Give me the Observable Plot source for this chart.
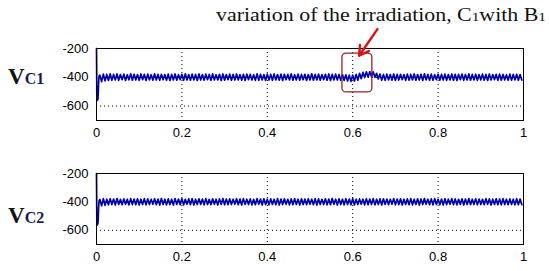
<!DOCTYPE html>
<html>
<head>
<meta charset="utf-8">
<script src="https://cdn.jsdelivr.net/npm/d3@7"></script>
<script src="https://cdn.jsdelivr.net/npm/@observablehq/plot@0.6"></script>
<style>
  html, body { margin: 0; padding: 0; background: white; }
  #wrap { position: relative; width: 549px; height: 271px; overflow: hidden; background: white; }
</style>
</head>
<body>
<div id="wrap"></div>
<script>
// ---- data ----
const xTicks = [0, 0.2, 0.4, 0.6, 0.8, 1];
const yTicks = [-600, -400, -200];
const titleText = "variation of the irradiation, C";
const panelLabels = ["C1", "C2"];

// start-up transient (time s, voltage V)
const transientT = [0, 0.0008, 0.002, 0.0035, 0.005, 0.006];
const transient1 = [-200, -520, -560, -550, -440, -390];
const transient2 = [-200, -525, -562, -548, -445, -392];

// ripple samples, one every 4 ms starting at t = 0.008 s
const rippleStart = 0.008, rippleStep = 0.004;
const ripple1 = [
  -385,-430,-378,-425,-380,-422,-376,-420,-380,-418,-377,-421,-381,-417,-378,-422,-382,-418,-376,-420,
  -379,-419,-381,-421,-377,-417,-380,-422,-378,-418,-382,-420,-376,-419,-380,-421,-379,-417,-381,-420,
  -378,-422,-380,-418,-377,-420,-382,-417,-379,-421,-376,-419,-381,-420,-378,-418,-380,-422,-377,-419,
  -381,-420,-378,-417,-380,-421,-376,-419,-382,-418,-379,-422,-377,-420,-381,-417,-378,-421,-380,-419,
  -377,-418,-381,-420,-379,-422,-378,-417,-380,-419,-382,-421,-376,-420,-379,-418,-381,-422,-378,-419,
  -380,-421,-377,-418,-381,-420,-378,-422,-379,-417,-380,-419,-377,-421,-382,-418,-378,-420,-380,-417,
  -379,-422,-381,-419,-376,-420,-380,-418,-378,-421,-381,-417,-379,-420,-377,-422,-380,-418,-378,-419,
  -380,-420,-381,-422,-383,-425,-385,-428,-384,-426,-380,-420,-372,-410,-366,-402,-362,-398,-360,-396,
  -362,-400,-372,-412,-378,-420,-380,-421,-378,-418,-381,-420,-377,-422,-380,-419,-379,-417,-381,-421,
  -378,-420,-380,-418,-377,-421,-381,-419,-379,-422,-376,-418,-380,-420,-378,-421,-382,-417,-379,-420,
  -380,-419,-378,-421,-381,-418,-377,-420,-379,-422,-380,-417,-378,-421,-381,-419,-377,-420,-380,-418,
  -379,-421,-381,-418,-378,-420,-380,-422,-377,-419,-381,-417,-379,-421,-378,-420,-380,-418,-382,-421,
  -378,-420,-380,-418,-379,-421,-381,-419
];
const ripple2 = [
  -383,-428,-377,-424,-381,-421,-378,-419,-380,-422,-376,-418,-382,-420,-379,-417,-381,-421,-377,-419,
  -380,-420,-378,-422,-381,-418,-377,-421,-379,-419,-382,-417,-378,-420,-380,-422,-376,-418,-381,-421,
  -379,-419,-381,-422,-377,-418,-380,-420,-378,-421,-382,-417,-379,-420,-377,-422,-381,-419,-378,-418,
  -380,-421,-377,-419,-382,-420,-378,-417,-381,-422,-379,-418,-376,-421,-380,-420,-378,-419,-381,-417,
  -378,-420,-380,-422,-377,-418,-381,-419,-379,-421,-382,-420,-377,-417,-380,-422,-378,-419,-381,-421,
  -379,-418,-381,-420,-377,-422,-380,-419,-378,-417,-382,-421,-379,-420,-377,-418,-381,-422,-378,-419,
  -380,-421,-378,-417,-381,-420,-377,-422,-379,-418,-382,-419,-378,-421,-380,-420,-376,-417,-381,-422,
  -379,-419,-381,-421,-378,-418,-380,-420,-377,-422,-382,-419,-379,-417,-381,-421,-378,-420,-380,-418,
  -377,-421,-381,-419,-379,-422,-378,-418,-380,-420,-382,-417,-377,-421,-380,-419,-378,-422,-381,-418,
  -379,-420,-377,-421,-381,-418,-378,-422,-380,-419,-376,-417,-381,-420,-379,-421,-377,-418,-382,-420,
  -380,-422,-378,-419,-381,-417,-377,-420,-379,-421,-382,-418,-378,-422,-380,-419,-377,-420,-381,-418,
  -378,-421,-380,-419,-382,-420,-377,-417,-379,-422,-381,-418,-378,-420,-380,-421,-377,-419,-381,-420,
  -379,-418,-381,-421,-378,-420,-380,-419
];

// annotation of the irradiation change (data units of top panel)
const markBox = { x1: 0.576, x2: 0.646, y1: -235, y2: -505 };
const markArrow = { x1: 0.658, y1: -65, x2: 0.615, y2: -250 };

function series(tr, rip) {
  const out = transientT.map((t, i) => ({ t, v: tr[i] }));
  rip.forEach((v, i) => out.push({ t: rippleStart + i * rippleStep, v }));
  return out;
}
const data1 = series(transient1, ripple1);
const data2 = series(transient2, ripple2);

const W = 549;
const wrap = document.getElementById("wrap");

function panel(data, top, mt, mb, extra) {
  const innerH = top === 0 ? 72 : 71;
  const p = Plot.plot({
    width: W,
    height: mt + innerH + mb,
    marginLeft: 96, marginRight: 26, marginTop: mt, marginBottom: mb,
    style: { fontFamily: "'Liberation Sans', Arial, sans-serif", fontSize: "13px", color: "black", background: "transparent", overflow: "visible" },
    x: { domain: [0, 1] },
    y: { domain: [-700, -200] },
    marks: [
      Plot.gridX(xTicks.slice(1, -1), { stroke: "black", strokeOpacity: 1, strokeDasharray: "1,3", strokeWidth: 1 }),
      Plot.gridY([-600, -400], { stroke: "black", strokeOpacity: 1, strokeDasharray: "1,3", strokeWidth: 1 }),
      Plot.line(data, { x: "t", y: "v", stroke: "#0000b0", strokeWidth: 1.7 }),
      Plot.frame({ stroke: "black", strokeWidth: 1 }),
      Plot.axisX({ ticks: xTicks, tickSize: 0, tickPadding: 7, tickFormat: d => String(d), label: null }),
      Plot.axisY({ ticks: yTicks, tickSize: 0, tickPadding: 8, tickFormat: d => String(d), label: null }),
      ...extra
    ]
  });
  p.style.position = "absolute";
  p.style.top = top + "px";
  p.style.left = "0px";
  wrap.appendChild(p);
}

panel(data1, 0, 48, 25, [
  Plot.rect([markBox], { x1: "x1", x2: "x2", y1: "y1", y2: "y2", rx: 4, stroke: "#8b2525", strokeWidth: 1.3, fill: "none", clip: false }),
  Plot.arrow([markArrow], { x1: "x1", y1: "y1", x2: "x2", y2: "y2", stroke: "#e01010", strokeWidth: 2.4, headLength: 12, clip: false })
]);
panel(data2, 145, 28, 26, []);

// text overlay: title and panel labels
const ns = "http://www.w3.org/2000/svg";
const ov = document.createElementNS(ns, "svg");
ov.setAttribute("width", W); ov.setAttribute("height", 271);
ov.style.position = "absolute"; ov.style.top = "0px"; ov.style.left = "0px";
ov.style.pointerEvents = "none";
ov.innerHTML = `
  <text x="216" y="21" textLength="330" lengthAdjust="spacingAndGlyphs" font-family="'Liberation Serif', 'Times New Roman', serif" font-size="18.5" fill="#111">${titleText}<tspan font-size="13">1</tspan>with B<tspan font-size="13">1</tspan></text>
  <text x="8" y="84" font-family="'Liberation Serif', 'Times New Roman', serif" font-weight="bold" fill="#111"><tspan font-size="23">V</tspan><tspan font-size="16" fill="#1a1a55">${panelLabels[0]}</tspan></text>
  <text x="8" y="223" font-family="'Liberation Serif', 'Times New Roman', serif" font-weight="bold" fill="#111"><tspan font-size="23">V</tspan><tspan font-size="16" fill="#1a1a55">${panelLabels[1]}</tspan></text>
`;
wrap.appendChild(ov);
</script>
</body>
</html>
